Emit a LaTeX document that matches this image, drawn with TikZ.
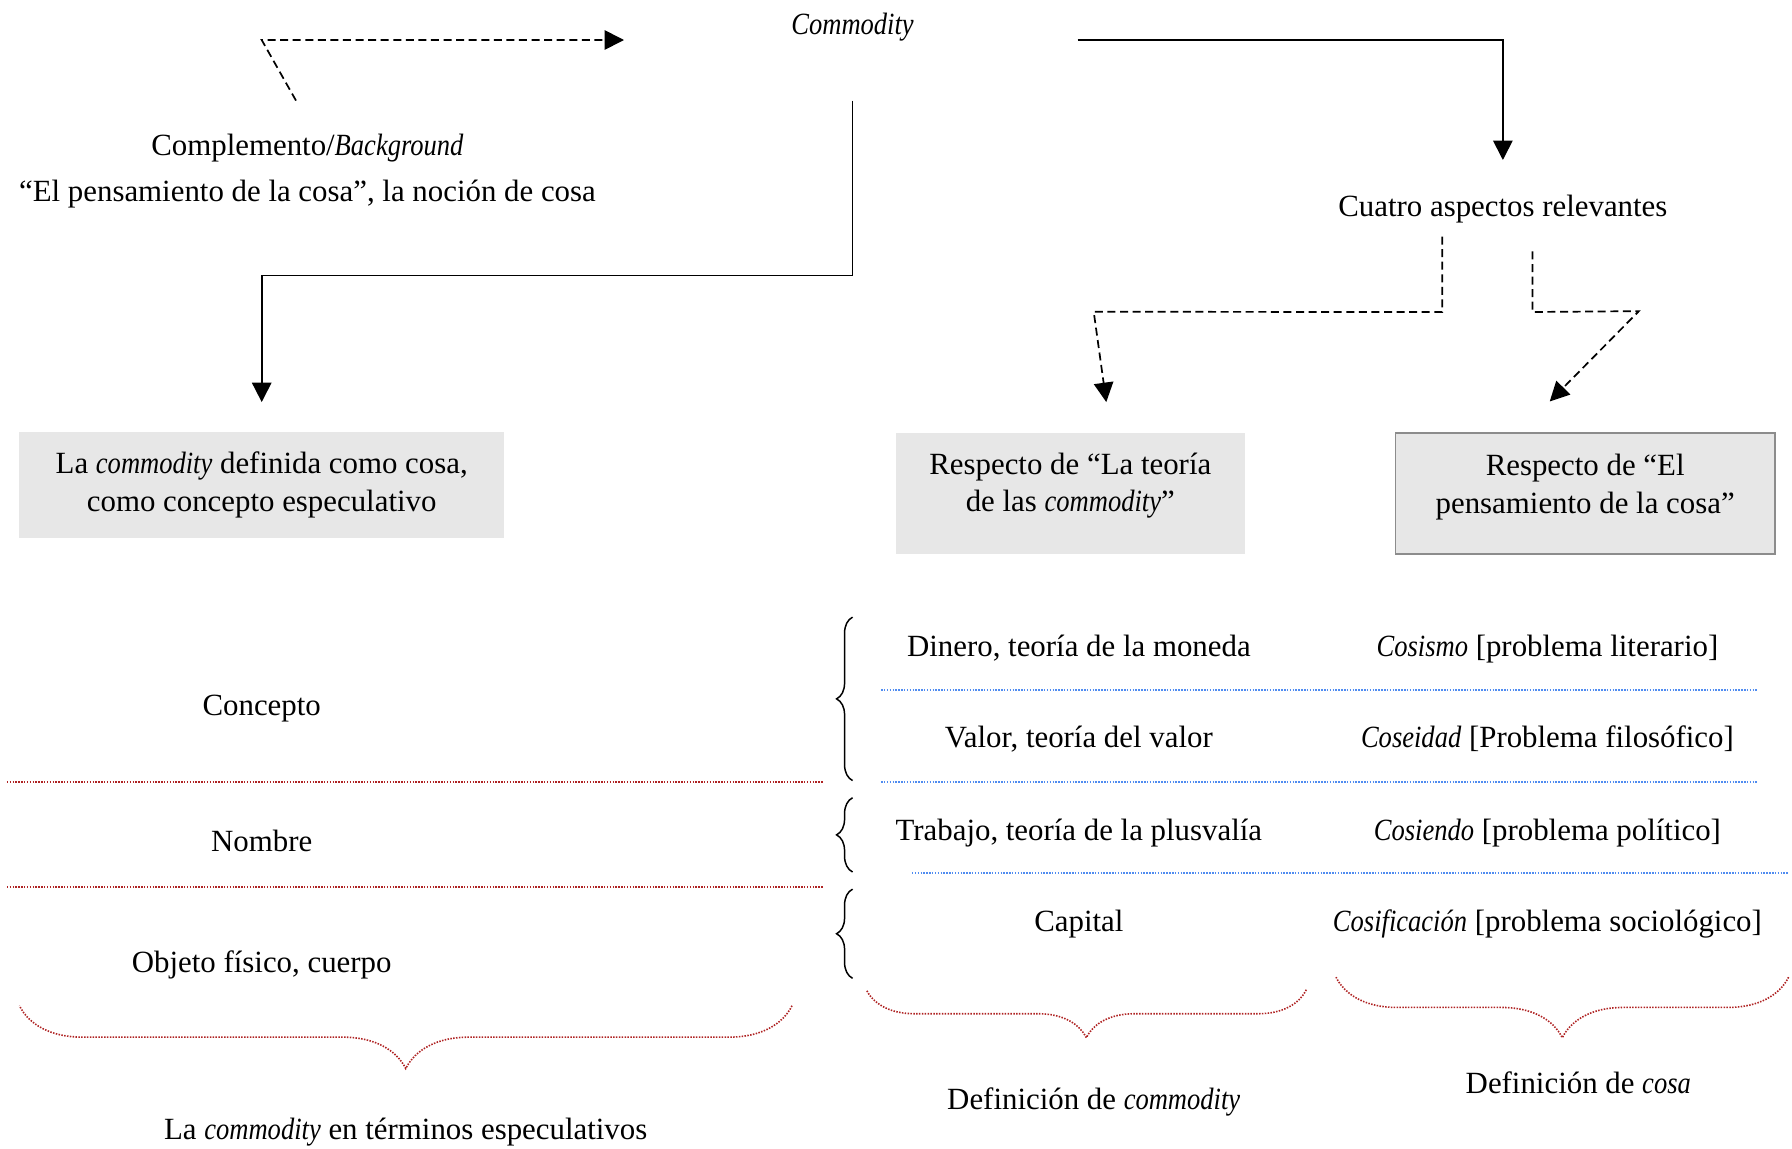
\documentclass[tikz,border=0pt]{standalone}
\usepackage{fontspec}
\setmainfont{Liberation Serif}[ItalicFeatures={FakeStretch=0.86}]
\usetikzlibrary{arrows.meta,decorations.pathreplacing,calc}
\definecolor{boxgray}{RGB}{231,231,231}
\definecolor{boxedge}{RGB}{140,140,140}
\definecolor{dotred}{RGB}{175,35,35}
\definecolor{dotblue}{RGB}{80,140,240}
\begin{document}
\begin{tikzpicture}[x=1pt,y=-1pt,
  every node/.style={font=\fontsize{27pt}{33pt}\selectfont},
  txt/.style={inner sep=0pt, align=center},
  one/.style={txt, text height=18pt, text depth=6pt},
  graybox/.style={fill=boxgray, inner sep=0pt},
  conn/.style={line width=1.5pt, -{Triangle[length=17pt,width=17pt]}},
  dconn/.style={conn, dash pattern=on 7pt off 4pt},
  reddot/.style={draw=dotred, line width=1.4pt, dash pattern=on 1.3pt off 1.2pt},
  bluedot/.style={draw=dotblue, line width=1.4pt, dash pattern=on 1.3pt off 1.2pt},
  bbrace/.style={draw, line width=1.3pt, decorate, decoration={brace, amplitude=14pt}},
  rbrace/.style={reddot, decorate, decoration={brace, amplitude=#1}},
]
\useasboundingbox (0,0) rectangle (1568,1004.5);

% top texts
\node[one] (commodity) at (746,24) {\textit{Commodity}};
\node[txt] (compl) at (269,150) {Complemento/\textit{Background}\\[7pt]“El pensamiento de la cosa”, la noción de cosa};
\node[one] (cuatro) at (1315,183) {Cuatro aspectos relevantes};

% boxes
\node[graybox, minimum width=424pt, minimum height=93pt] (b1) at (229,424.5) {};
\node[txt] (b1t) at (229,424.5) {La \textit{commodity} definida como cosa,\\como concepto especulativo};
\node[graybox, minimum width=305pt, minimum height=106pt] (b2) at (936.5,432) {};
\node[txt] (b2t) at (936.5,425) {Respecto de “La teoría\\de las \textit{commodity}”};
\node[graybox, draw=boxedge, line width=1.5pt, minimum width=332pt, minimum height=106pt] (b3) at (1387,432) {};
\node[txt] (b3t) at (1387,426) {Respecto de “El\\pensamiento de la cosa”};

% connectors
\draw[dconn] ($(compl)+(-10,-62)$) -- ($(commodity)+(-517,11)$) -- ($(commodity)+(-200,11)$);
\draw[conn] ($(commodity)+(197,11)$) -| ($(cuatro)+(0,-43)$);
\draw[conn] ($(commodity)+(0,64)$) -- ($(commodity)+(0,217)$) -| ($(b1.north)+(0,-26)$);
\draw[dconn] ($(cuatro)+(-53,24)$) -- ($(cuatro)+(-53,90)$) -- ($(b2.north)+(20.5,-106)$) -- ($(b2.north)+(31.5,-27)$);
\draw[dconn] ($(cuatro)+(26,37)$) -- ($(cuatro)+(26,90)$) -- ($(b3.north)+(47,-106)$) -- ($(b3.north)+(-31,-27)$);

% left column
\node[one] (concepto) at (229,620) {Concepto};
\node[one] (nombre) at (229,739) {Nombre};
\node[one] (objeto) at (229,845) {Objeto físico, cuerpo};
\draw[reddot] (6,684) -- (720,684);
\draw[reddot] (6,776) -- (720,776);

% black braces
\draw[bbrace] (746,683) -- (746,540);
\draw[bbrace] (746,763) -- (746,698);
\draw[bbrace] (746,856) -- (746,778);

% middle and right columns
\node[one] (c1a) at (944,568) {Dinero, teoría de la moneda};
\node[one] (c1b) at (944,648) {Valor, teoría del valor};
\node[one] (c1c) at (944,729) {Trabajo, teoría de la plusvalía};
\node[one] (c1d) at (944,809) {Capital};
\node[one] (c2a) at (1354,568) {\textit{Cosismo} [problema literario]};
\node[one] (c2b) at (1354,648) {\textit{Coseidad} [Problema filosófico]};
\node[one] (c2c) at (1354,729) {\textit{Cosiendo} [problema político]};
\node[one] (c2d) at (1354,809) {\textit{Cosificación} [problema sociológico]};
\draw[bluedot] (771,604) -- (1538,604);
\draw[bluedot] (771,684) -- (1538,684);
\draw[bluedot] (798,764) -- (1565,764);

% red braces
\draw[rbrace=55pt] (693,880) -- (17,880);
\draw[rbrace=42pt] (1143,866) -- (758,866);
\draw[rbrace=53pt] (1565,855) -- (1169,855);

% bottom labels
\node[one] (lab1) at (355,991) {La \textit{commodity} en términos especulativos};
\node[one] (lab2) at (957,965) {Definición de \textit{commodity}};
\node[one] (lab3) at (1381,951) {Definición de \textit{cosa}};
\end{tikzpicture}
\end{document}
